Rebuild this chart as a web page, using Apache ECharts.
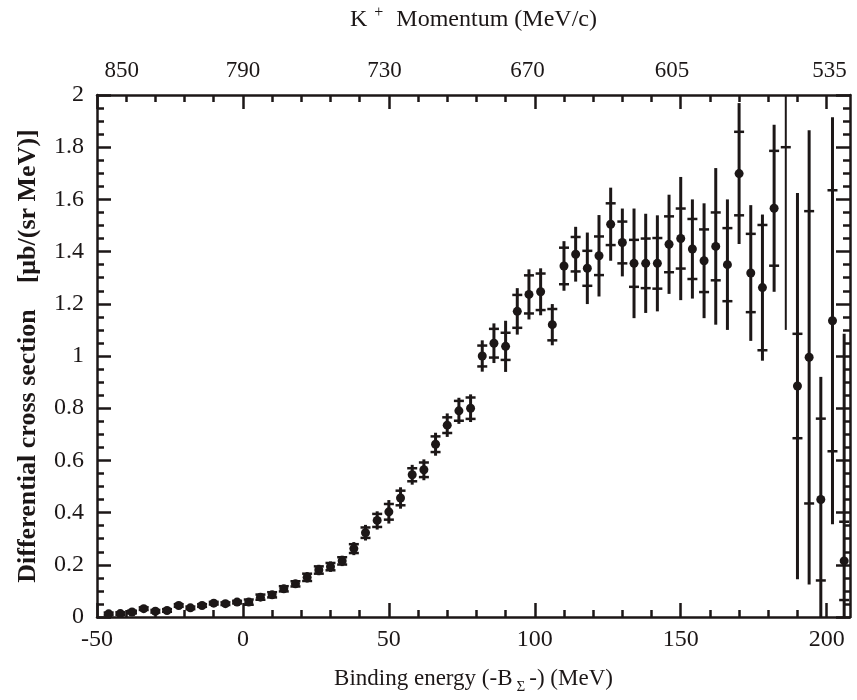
<!DOCTYPE html>
<html>
<head>
<meta charset="utf-8">
<script src="https://cdn.jsdelivr.net/npm/echarts@6/dist/echarts.min.js"></script>
<style>html,body{margin:0;padding:0;background:#fff;}#c{width:857px;height:700px;}</style>
</head>
<body>
<div id="c"></div>
<script>
// Binding energy bins (MeV)
var bindingEnergy = [-46,-42,-38,-34,-30,-26,-22,-18,-14,-10,-6,-2,2,6,10,14,18,22,26,30,34,38,42,46,50,54,58,62,66,70,74,78,82,86,90,94,98,102,106,110,114,118,122,126,130,134,138,142,146,150,154,158,162,166,170,174,178,182,186,190,194,198,202,206];
// Differential cross section values
var crossSection = [0.012,0.013,0.019,0.032,0.022,0.025,0.044,0.035,0.044,0.053,0.051,0.057,0.057,0.076,0.085,0.108,0.127,0.152,0.180,0.193,0.215,0.262,0.323,0.370,0.403,0.456,0.545,0.564,0.662,0.735,0.790,0.800,1.000,1.049,1.037,1.171,1.236,1.246,1.120,1.345,1.390,1.336,1.384,1.505,1.435,1.355,1.355,1.355,1.428,1.450,1.410,1.365,1.420,1.350,1.699,1.318,1.262,1.566,2.30,0.885,0.995,0.450,1.135,0.215];
// Statistical (inner tick) errors
var statError = [0.005,0.005,0.005,0.005,0.005,0.005,0.005,0.005,0.005,0.005,0.005,0.005,0.01,0.01,0.01,0.01,0.01,0.014,0.014,0.014,0.014,0.017,0.02,0.025,0.03,0.028,0.025,0.028,0.03,0.03,0.038,0.041,0.04,0.055,0.052,0.063,0.073,0.07,0.06,0.07,0.066,0.067,0.074,0.08,0.08,0.09,0.095,0.097,0.107,0.115,0.115,0.12,0.13,0.14,0.16,0.15,0.24,0.22,0.5,0.2,0.56,0.31,0.5,0.15];
// Total (bar end) errors
var totalError = [0.008,0.008,0.008,0.008,0.008,0.008,0.008,0.008,0.008,0.008,0.008,0.008,0.014,0.014,0.014,0.014,0.014,0.02,0.02,0.02,0.02,0.025,0.03,0.035,0.045,0.041,0.038,0.04,0.044,0.045,0.05,0.053,0.06,0.076,0.098,0.089,0.096,0.09,0.079,0.095,0.105,0.137,0.156,0.14,0.13,0.21,0.19,0.184,0.19,0.236,0.19,0.22,0.30,0.25,0.27,0.26,0.28,0.32,1.2,0.74,0.87,0.47,0.78,0.87];

var xTicks = [-50,0,50,100,150,200];
var yTicks = [0,0.2,0.4,0.6,0.8,1,1.2,1.4,1.6,1.8,2];
var momentumLabels = ['850','790','730','670','605','535'];
var momentumPositions = [-41.5,0,48.5,97.5,147,201];

var xMinor = []; for (var v = -50; v <= 200; v += 10) xMinor.push(v);
var yMinor = []; for (var k = 0; k <= 40; k++) yMinor.push(Math.round(k*5)/100);

var C = '#1c1717';
var FONT = 'Liberation Serif';
var XMIN = -50, XMAX = 208, YMIN = 0, YMAX = 2;

function xAx(pos, ticks, len, showLine, label) {
  return {
    type: 'value', position: pos, min: XMIN, max: XMAX,
    splitLine: {show: false},
    axisLine: {show: showLine, onZero: false, lineStyle: {color: C, width: 2.5}},
    axisTick: {show: true, inside: true, length: len, customValues: ticks, lineStyle: {color: C, width: 2.5}},
    axisLabel: label || {show: false}
  };
}
function yAx(pos, ticks, len, showLine, label) {
  return {
    type: 'value', position: pos, min: YMIN, max: YMAX,
    splitLine: {show: false},
    axisLine: {show: showLine, onZero: false, lineStyle: {color: C, width: 2.5}},
    axisTick: {show: true, inside: true, length: len, customValues: ticks, lineStyle: {color: C, width: 2.5}},
    axisLabel: label || {show: false}
  };
}

var bottomMain = xAx('bottom', xTicks, 14, true, {
  show: true, customValues: xTicks, margin: 11, color: C, fontFamily: FONT, fontSize: 24
});
bottomMain.name = 'Binding energy (-B{sub|Σ}-) (MeV)';
bottomMain.nameLocation = 'middle';
bottomMain.nameGap = 45;
bottomMain.nameTextStyle = {color: C, fontFamily: FONT, fontSize: 23,
  rich: {sub: {color: C, fontFamily: FONT, fontSize: 15, padding: [18, 4, 0, 4]}}};

var topMain = xAx('top', xTicks, 14, true, {
  show: true, customValues: momentumPositions, margin: 13, color: C, fontFamily: FONT, fontSize: 23,
  formatter: function (v) { var i = momentumPositions.indexOf(v); return i >= 0 ? momentumLabels[i] : ''; }
});
topMain.name = 'K{sup|+} Momentum (MeV/c)';
topMain.nameLocation = 'middle';
topMain.nameGap = 60;
topMain.nameTextStyle = {color: C, fontFamily: FONT, fontSize: 24,
  rich: {sup: {color: C, fontFamily: FONT, fontSize: 16, padding: [0, 7, 14, 7]}}};

var leftMain = yAx('left', yTicks, 14, true, {
  show: true, customValues: yTicks, margin: 13, color: C, fontFamily: FONT, fontSize: 24
});
leftMain.name = 'Differential cross section    [μb/(sr MeV)]';
leftMain.nameLocation = 'middle';
leftMain.nameGap = 56;
leftMain.nameTextStyle = {color: C, fontFamily: FONT, fontSize: 26, fontWeight: 'bold'};

var chart = echarts.init(document.getElementById('c'), null, {renderer: 'canvas'});
chart.setOption({
  animation: false,
  backgroundColor: '#ffffff',
  grid: {left: 97, right: 7, top: 94, bottom: 80, containLabel: false},
  xAxis: [
    bottomMain,
    xAx('bottom', xMinor, 7, false),
    topMain,
    xAx('top', xMinor, 7, false)
  ],
  yAxis: [
    leftMain,
    yAx('left', yMinor, 7, false),
    yAx('right', yTicks, 14, true),
    yAx('right', yMinor, 7, false)
  ],
  series: [{
    type: 'custom',
    xAxisIndex: 0, yAxisIndex: 0,
    data: bindingEnergy.map(function (b, i) { return [b, crossSection[i], statError[i], totalError[i]]; }),
    encode: {x: 0, y: 1},
    renderItem: function (params, api) {
      var x = api.value(0), y = api.value(1), s = api.value(2), t = api.value(3);
      function cy(v) { return api.coord([x, Math.max(YMIN, Math.min(YMAX, v))])[1]; }
      var px = api.coord([x, 0])[0];
      var ch = [];
      ch.push({type: 'line', shape: {x1: px, y1: cy(y - t), x2: px, y2: cy(y + t)}, style: {stroke: C, lineWidth: y > YMAX ? 2 : 3}});
      [y - s, y + s].forEach(function (v) {
        if (v >= YMIN && v <= YMAX) ch.push({type: 'line', shape: {x1: px - 5, y1: cy(v), x2: px + 5, y2: cy(v)}, style: {stroke: C, lineWidth: 2.5}});
      });
      if (y <= YMAX) ch.push({type: 'circle', shape: {cx: px, cy: cy(y), r: 4.5}, style: {fill: C}});
      return {type: 'group', children: ch};
    }
  }]
});
</script>
</body>
</html>
